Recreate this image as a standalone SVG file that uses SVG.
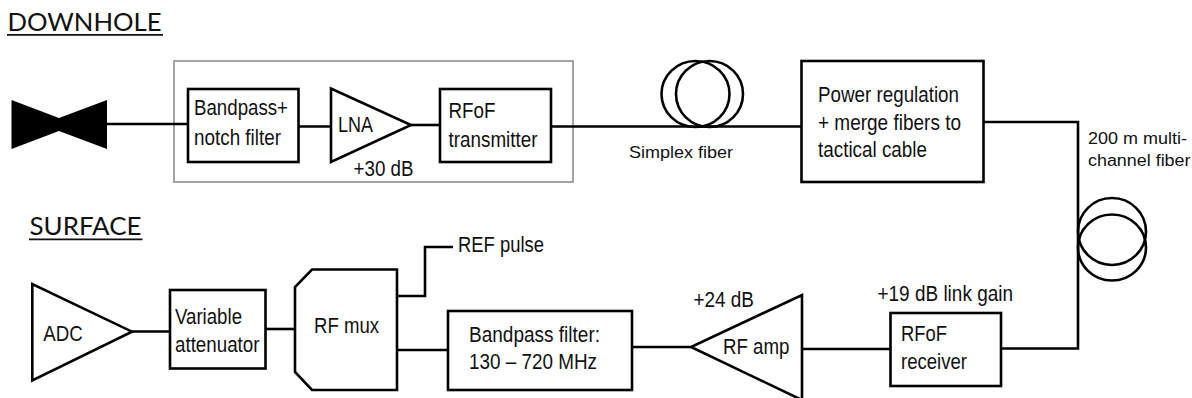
<svg xmlns="http://www.w3.org/2000/svg" width="1192" height="398" viewBox="0 0 1192 398">
<style>
.s{fill:#fff;stroke:#000;stroke-width:2.6}
.n{fill:none;stroke:#000;stroke-width:2.6}
.c{fill:none;stroke:#000;stroke-width:2.6}
text{font-family:"Liberation Sans",Arial,sans-serif;font-size:21.5px;fill:#111}
.m{font-size:17.3px}
.h{font-family:Lato,"Open Sans",sans-serif;font-size:25.5px;fill:#111}
.u{stroke:#111;stroke-width:1.7}
</style>
<rect width="1192" height="398" fill="#fff"/>
<g id="title-downhole"><text class="h" x="7.5" y="30.7" textLength="154" lengthAdjust="spacingAndGlyphs">DOWNHOLE</text><line class="u" x1="7" y1="34.800" x2="163" y2="34.800"/></g>
<g id="title-surface"><text class="h" x="29.500" y="235" textLength="112" lengthAdjust="spacingAndGlyphs">SURFACE</text><line class="u" x1="29" y1="239.300" x2="142.500" y2="239.300"/></g>
<g id="enclosure"><rect x="174" y="61" width="399" height="121" fill="none" stroke="#9a9a9a" stroke-width="1.800"/></g>
<g id="connectors">
<path class="c" d="M107 124H188"/>
<path class="c" d="M298 126.500H331"/>
<path class="c" d="M411 125H440"/>
<path class="c" d="M551 126.500H802"/>
<path class="c" d="M983 122H1078V348.500H1002"/>
<path class="c" d="M891 349H802"/>
<path class="c" d="M691 347H632"/>
<path class="c" d="M448 350H397"/>
<path class="c" d="M397 296H425V247H453"/>
<path class="c" d="M295 329H265"/>
<path class="c" d="M170 331.500H132"/>
</g>
<g id="antenna"><polygon points="11.500,100 59,118 107,100 107,149 59,131 11.500,149" fill="#000"/></g>
<g id="bandpass-notch"><rect class="s" x="188" y="89" width="110.500" height="73"/><text x="194" y="115" textLength="94" lengthAdjust="spacingAndGlyphs">Bandpass+</text><text x="194" y="145" textLength="87" lengthAdjust="spacingAndGlyphs">notch filter</text></g>
<g id="lna"><polygon class="s" points="331,88.500 331,162 411,125"/><text x="338" y="131.700" textLength="35" lengthAdjust="spacingAndGlyphs">LNA</text><text x="353.500" y="175.500" textLength="60" lengthAdjust="spacingAndGlyphs">+30 dB</text></g>
<g id="rfof-tx"><rect class="s" x="440" y="89" width="111" height="73"/><text x="448.500" y="118" textLength="47" lengthAdjust="spacingAndGlyphs">RFoF</text><text x="448.500" y="147" textLength="89" lengthAdjust="spacingAndGlyphs">transmitter</text></g>
<g id="simplex-coil"><ellipse class="n" cx="695.500" cy="94" rx="34" ry="33"/><ellipse class="n" cx="709.500" cy="94" rx="33.500" ry="33"/><text class="m" x="629" y="158" textLength="104" lengthAdjust="spacingAndGlyphs">Simplex fiber</text></g>
<g id="power-merge"><rect class="s" x="801.500" y="61" width="182" height="121"/><text x="818" y="102" textLength="141" lengthAdjust="spacingAndGlyphs">Power regulation</text><text x="818" y="130" textLength="143" lengthAdjust="spacingAndGlyphs">+ merge fibers to</text><text x="818" y="157" textLength="109" lengthAdjust="spacingAndGlyphs">tactical cable</text></g>
<g id="multichannel-coil"><ellipse class="n" cx="1112" cy="231.500" rx="34" ry="33.500"/><ellipse class="n" cx="1112" cy="247.500" rx="34" ry="33"/><text class="m" x="1088" y="143.500" textLength="99" lengthAdjust="spacingAndGlyphs">200 m multi-</text><text class="m" x="1088" y="166" textLength="102.500" lengthAdjust="spacingAndGlyphs">channel fiber</text></g>
<g id="rfof-rx"><rect class="s" x="890.500" y="313" width="110.500" height="73"/><text x="877.500" y="301" textLength="135.500" lengthAdjust="spacingAndGlyphs">+19 dB link gain</text><text x="901" y="341" textLength="46" lengthAdjust="spacingAndGlyphs">RFoF</text><text x="901" y="369" textLength="66" lengthAdjust="spacingAndGlyphs">receiver</text></g>
<g id="rf-amp"><polygon class="s" points="802,295 802,400 691,347"/><text x="693.500" y="307" textLength="60.500" lengthAdjust="spacingAndGlyphs">+24 dB</text><text x="723" y="354" textLength="66.500" lengthAdjust="spacingAndGlyphs">RF amp</text></g>
<g id="bandpass-filter"><rect class="s" x="448" y="311" width="184" height="79"/><text x="469" y="342" textLength="131" lengthAdjust="spacingAndGlyphs">Bandpass filter:</text><text x="469" y="369" textLength="128" lengthAdjust="spacingAndGlyphs">130 – 720 MHz</text></g>
<g id="rf-mux"><polygon class="s" points="312,269.500 397,269.500 397,390 312,390 295,372 295,287"/><text x="314" y="333" textLength="65" lengthAdjust="spacingAndGlyphs">RF mux</text></g>
<g id="ref-pulse"><text x="458" y="252" textLength="86" lengthAdjust="spacingAndGlyphs">REF pulse</text></g>
<g id="attenuator"><rect class="s" x="170" y="290" width="95.500" height="78.500"/><text x="175" y="324" textLength="67" lengthAdjust="spacingAndGlyphs">Variable</text><text x="175" y="351.700" textLength="84.500" lengthAdjust="spacingAndGlyphs">attenuator</text></g>
<g id="adc"><polygon class="s" points="32.300,284 32.300,380.500 132,331.700"/><text x="43.300" y="340.700" textLength="39.500" lengthAdjust="spacingAndGlyphs">ADC</text></g>
</svg>
